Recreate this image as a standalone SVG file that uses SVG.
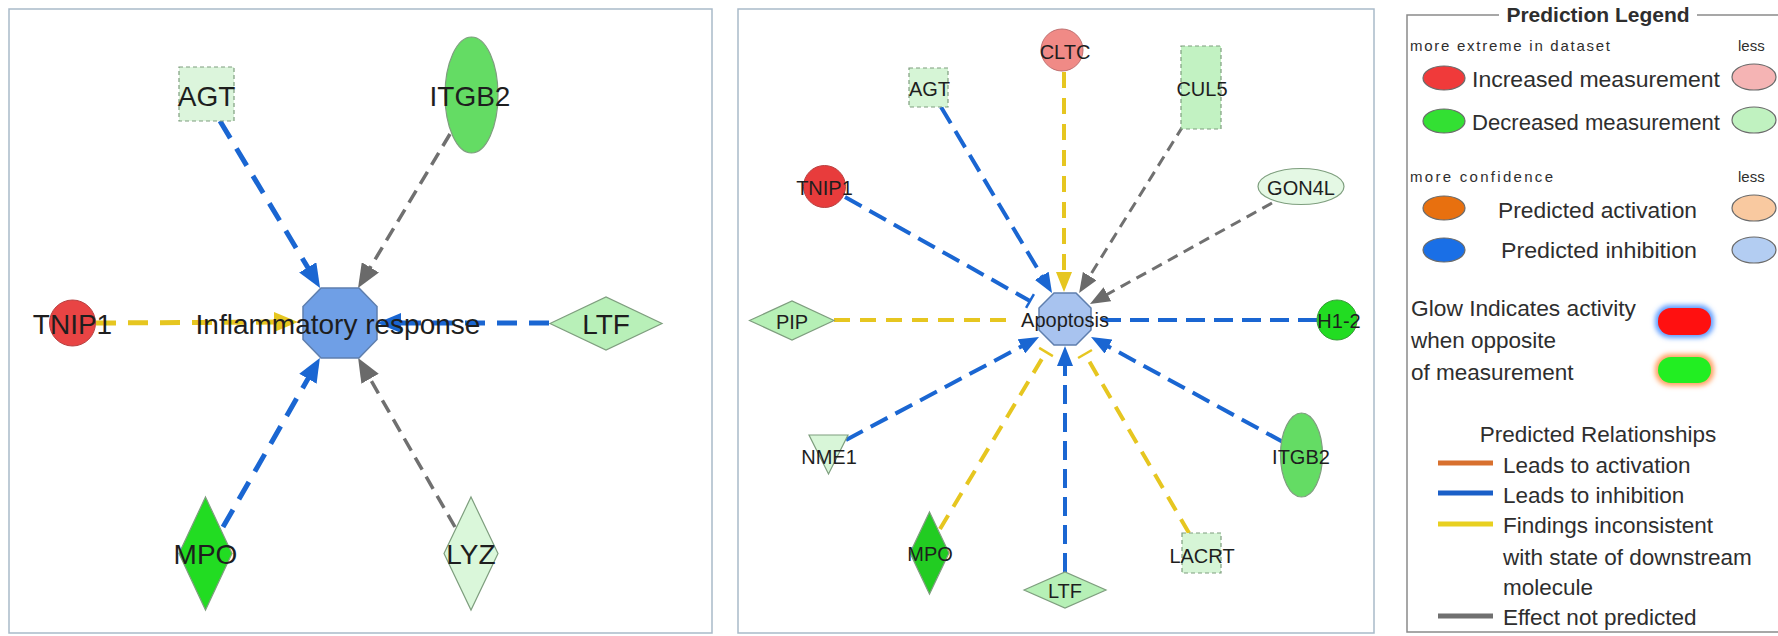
<svg xmlns="http://www.w3.org/2000/svg" width="1778" height="636" viewBox="0 0 1778 636">
<defs>
<style>
.panel{fill:#ffffff;stroke:#a9bac9;stroke-width:1.5}
.lbl1{font-family:"Liberation Sans",Arial,sans-serif;font-size:28px;fill:#1e1e1e;text-anchor:middle}
.lbl2{font-family:"Liberation Sans",Arial,sans-serif;font-size:20px;fill:#1e1e1e;text-anchor:middle}
.node{stroke:#7e9e7e;stroke-width:1.2}
.dnode{stroke:#7e9e7e;stroke-width:1.2;stroke-dasharray:4 3}
.oct{stroke:#5f7fae;stroke-width:1.5}
.b1{stroke:#1a66d2;stroke-width:5;stroke-dasharray:20 12;fill:none}
.y1{stroke:#e6c620;stroke-width:5;stroke-dasharray:20 12;fill:none}
.g1{stroke:#707070;stroke-width:3.5;stroke-dasharray:14 8;fill:none}
.b2{stroke:#1a66d2;stroke-width:4;stroke-dasharray:19 9;fill:none}
.y2{stroke:#e6c620;stroke-width:4;stroke-dasharray:16 10;fill:none}
.g2{stroke:#707070;stroke-width:3;stroke-dasharray:11 7;fill:none}
.lg{font-family:"Liberation Sans",Arial,sans-serif;font-size:22.5px;fill:#2e2e2e}
.lgs{font-family:"Liberation Sans",Arial,sans-serif;font-size:15px;fill:#2e2e2e}
.lgt{font-family:"Liberation Sans",Arial,sans-serif;font-size:21px;font-weight:bold;fill:#2e2e2e;text-anchor:middle}
.le{stroke:#6a6a6a;stroke-width:1.2}
</style>
<marker id="ab1" viewBox="0 -10 24 20" refX="12" refY="0" markerWidth="24" markerHeight="20" markerUnits="userSpaceOnUse" orient="auto"><path d="M0,-10 L24,0 L0,10 z" fill="#1a66d2"/></marker>
<marker id="ay1" viewBox="0 -10 24 20" refX="12" refY="0" markerWidth="24" markerHeight="20" markerUnits="userSpaceOnUse" orient="auto"><path d="M0,-10 L24,0 L0,10 z" fill="#e6c620"/></marker>
<marker id="ag1" viewBox="0 -10 24 20" refX="12" refY="0" markerWidth="24" markerHeight="20" markerUnits="userSpaceOnUse" orient="auto"><path d="M0,-10 L24,0 L0,10 z" fill="#6a6a6a"/></marker>
<marker id="ab2" viewBox="0 -8 20 16" refX="10" refY="0" markerWidth="20" markerHeight="16" markerUnits="userSpaceOnUse" orient="auto"><path d="M0,-8 L20,0 L0,8 z" fill="#1a66d2"/></marker>
<marker id="ay2" viewBox="0 -8 20 16" refX="10" refY="0" markerWidth="20" markerHeight="16" markerUnits="userSpaceOnUse" orient="auto"><path d="M0,-8 L20,0 L0,8 z" fill="#e6c620"/></marker>
<marker id="ag2" viewBox="0 -8 20 16" refX="10" refY="0" markerWidth="20" markerHeight="16" markerUnits="userSpaceOnUse" orient="auto"><path d="M0,-8 L20,0 L0,8 z" fill="#6a6a6a"/></marker>
<marker id="tb2" viewBox="-2 -9 4 18" refX="0" refY="0" markerWidth="4" markerHeight="18" markerUnits="userSpaceOnUse" orient="auto"><path d="M0,-8 V8" stroke="#1a66d2" stroke-width="2.5"/></marker>
<marker id="ty2" viewBox="-2 -9 4 18" refX="0" refY="0" markerWidth="4" markerHeight="18" markerUnits="userSpaceOnUse" orient="auto"><path d="M0,-8 V8" stroke="#e6c620" stroke-width="2.5"/></marker>
<filter id="blur" x="-30%" y="-50%" width="160%" height="200%"><feGaussianBlur stdDeviation="2.5"/></filter>
</defs>
<rect width="1778" height="636" fill="#ffffff"/>

<!-- Panel 1 -->
<rect class="panel" x="9" y="9" width="703" height="624"/>
<g id="p1-connectors">
<line class="b1" x1="220" y1="121" x2="313.9" y2="277.7" marker-end="url(#ab1)"/>
<line class="g1" x1="450" y1="134" x2="364.2" y2="277.7" marker-end="url(#ag1)"/>
<line class="y1" x1="96" y1="323" x2="286" y2="322" marker-end="url(#ay1)"/>
<line class="b1" x1="549" y1="323" x2="389" y2="323" marker-end="url(#ab1)"/>
<line class="b1" x1="223" y1="527" x2="313.9" y2="368.4" marker-end="url(#ab1)"/>
<line class="g1" x1="455" y1="527" x2="364.1" y2="368.4" marker-end="url(#ag1)"/>
</g>
<g id="p1-AGT"><rect class="dnode" x="179" y="67" width="55" height="54" fill="#dcf5dc"/><text class="lbl1" x="206.5" y="106">AGT</text></g>
<g id="p1-ITGB2"><ellipse class="node" cx="471.5" cy="95" rx="26.5" ry="58" fill="#64dc64"/><text class="lbl1" x="470" y="106">ITGB2</text></g>
<g id="p1-TNIP1"><circle cx="72.5" cy="323" r="23" fill="#e84444" stroke="#b84040" stroke-width="1"/><text class="lbl1" x="72.5" y="334">TNIP1</text></g>
<g id="p1-LTF"><polygon class="node" points="550,323.5 606,297 662,323.5 606,350" fill="#b8f0b8"/><text class="lbl1" x="606" y="334">LTF</text></g>
<g id="p1-MPO"><polygon class="node" points="205.5,497 232,553.5 205.5,610 179,553.5" fill="#22dc22"/><text class="lbl1" x="205.5" y="564">MPO</text></g>
<g id="p1-LYZ"><polygon class="node" points="471,497 498,553.5 471,610 444,553.5" fill="#daf7da"/><text class="lbl1" x="471" y="564">LYZ</text></g>
<g id="p1-inflammatory"><polygon class="oct" points="321,288 359,288 377,306.5 377,339.5 359,358 321,358 303,339.5 303,306.5" fill="#6f9fe6"/><text class="lbl1" x="338" y="334">Inflammatory response</text></g>

<!-- Panel 2 -->
<rect class="panel" x="738" y="9" width="636" height="624"/>
<g id="p2-connectors">
<line class="b2" x1="941" y1="107" x2="1046.9" y2="284.4" marker-end="url(#ab2)"/>
<line class="y2" x1="1064" y1="72" x2="1064" y2="282" marker-end="url(#ay2)"/>
<line class="g2" x1="1183" y1="126" x2="1084.4" y2="284.6" marker-end="url(#ag2)"/>
<line class="g2" x1="1272" y1="203" x2="1098.7" y2="299.1" marker-end="url(#ag2)"/>
<line class="b2" x1="845" y1="197" x2="1030" y2="301" marker-end="url(#tb2)"/>
<line class="y2" x1="834" y1="320" x2="1014" y2="320"/>
<line class="b2" x1="1317" y1="320" x2="1100" y2="320"/>
<line class="b2" x1="846" y1="440" x2="1030.2" y2="341.7" marker-end="url(#ab2)"/>
<line class="y2" x1="940" y1="529" x2="1046" y2="352" marker-end="url(#ty2)"/>
<line class="b2" x1="1065" y1="572" x2="1065" y2="356" marker-end="url(#ab2)"/>
<line class="y2" x1="1189" y1="533" x2="1085" y2="354" marker-end="url(#ty2)"/>
<line class="b2" x1="1283" y1="442" x2="1099.8" y2="341.8" marker-end="url(#ab2)"/>
</g>
<g id="p2-CLTC"><circle cx="1062" cy="50" r="21" fill="#f08a86" stroke="#c07070" stroke-width="1"/><text class="lbl2" x="1065" y="58.5">CLTC</text></g>
<g id="p2-AGT"><rect class="dnode" x="909" y="68" width="39" height="39" fill="#d6f5d6"/><text class="lbl2" x="929.5" y="96">AGT</text></g>
<g id="p2-CUL5"><rect class="dnode" x="1181" y="46" width="40" height="83" fill="#c2f2c2"/><text class="lbl2" x="1202" y="96">CUL5</text></g>
<g id="p2-TNIP1"><circle cx="824.5" cy="186.5" r="21" fill="#e83c3c" stroke="#b84040" stroke-width="1"/><text class="lbl2" x="824.5" y="194.5">TNIP1</text></g>
<g id="p2-GON4L"><ellipse class="node" cx="1301" cy="186.5" rx="43" ry="18" fill="#e4f8e4"/><text class="lbl2" x="1301" y="194.5">GON4L</text></g>
<g id="p2-PIP"><polygon class="node" points="749.5,320.5 792,301 834,320.5 792,340" fill="#b6f0b6"/><text class="lbl2" x="792" y="328.5">PIP</text></g>
<g id="p2-H1-2"><circle cx="1337" cy="320" r="20" fill="#22dc22" stroke="#3a9a3a" stroke-width="1"/><text class="lbl2" x="1339" y="328">H1-2</text></g>
<g id="p2-NME1"><polygon class="node" points="809,435 848,435 828.5,474" fill="#d8f6d8"/><text class="lbl2" x="829" y="464">NME1</text></g>
<g id="p2-ITGB2"><ellipse class="node" cx="1301.5" cy="455" rx="21" ry="42" fill="#64dc64"/><text class="lbl2" x="1301" y="464">ITGB2</text></g>
<g id="p2-MPO"><polygon class="node" points="929.5,512 949,553 929.5,594 910,553" fill="#22cc22"/><text class="lbl2" x="930" y="561">MPO</text></g>
<g id="p2-LTF"><polygon class="node" points="1024,590 1065,572 1106,590 1065,608" fill="#b6f0b6"/><text class="lbl2" x="1065" y="598">LTF</text></g>
<g id="p2-LACRT"><rect class="dnode" x="1182" y="533" width="39" height="40" fill="#d6f5d6"/><text class="lbl2" x="1202" y="563">LACRT</text></g>
<g id="p2-apoptosis"><polygon class="oct" points="1054,293 1076,293 1091,308 1091,330 1076,345 1054,345 1039,330 1039,308" fill="#a8c3ef"/><text class="lbl2" x="1065" y="327">Apoptosis</text></g>

<!-- Legend -->
<g id="legend">
<rect x="1407" y="15" width="400" height="617" fill="none" stroke="#8a8a8a" stroke-width="1.5"/>
<rect x="1499" y="3" width="198" height="26" fill="#ffffff"/>
<text class="lgt" x="1598" y="22">Prediction Legend</text>
<text class="lgs" x="1410" y="51" textLength="200" lengthAdjust="spacing">more extreme in dataset</text>
<text class="lgs" x="1738" y="51">less</text>
<ellipse class="le" cx="1444" cy="78" rx="21" ry="12" fill="#f03a3a"/>
<text class="lg" x="1472" y="87" textLength="248" lengthAdjust="spacingAndGlyphs">Increased measurement</text>
<ellipse class="le" cx="1754" cy="77" rx="22" ry="13" fill="#f5b4b4"/>
<ellipse class="le" cx="1444" cy="121" rx="21" ry="12" fill="#33e033"/>
<text class="lg" x="1472" y="130" textLength="248" lengthAdjust="spacingAndGlyphs">Decreased measurement</text>
<ellipse class="le" cx="1754" cy="120" rx="22" ry="13" fill="#c0f2c0"/>
<text class="lgs" x="1410" y="182" textLength="143" lengthAdjust="spacing">more confidence</text>
<text class="lgs" x="1738" y="182">less</text>
<ellipse class="le" cx="1444" cy="208" rx="21" ry="12" fill="#e8700f"/>
<text class="lg" x="1498" y="218" textLength="199" lengthAdjust="spacingAndGlyphs">Predicted activation</text>
<ellipse class="le" cx="1754" cy="208" rx="22" ry="13" fill="#f9c9a0"/>
<ellipse class="le" cx="1444" cy="250" rx="21" ry="12" fill="#1a6fe6"/>
<text class="lg" x="1501" y="258" textLength="196" lengthAdjust="spacingAndGlyphs">Predicted inhibition</text>
<ellipse class="le" cx="1754" cy="250" rx="22" ry="13" fill="#b3cdf2"/>
<text class="lg" x="1411" y="316" textLength="225" lengthAdjust="spacingAndGlyphs">Glow Indicates activity</text>
<text class="lg" x="1411" y="348">when opposite</text>
<text class="lg" x="1411" y="380">of measurement</text>
<rect x="1655" y="305" width="59" height="33" rx="15" fill="#5d9cff" filter="url(#blur)"/>
<rect x="1658" y="308" width="53" height="27" rx="13" fill="#ff1010"/>
<rect x="1655" y="354" width="59" height="32" rx="15" fill="#ffa060" filter="url(#blur)"/>
<rect x="1658" y="357" width="53" height="26" rx="13" fill="#22ee22"/>
<text class="lg" x="1598" y="442" text-anchor="middle">Predicted Relationships</text>
<line x1="1438" y1="463" x2="1493" y2="463" stroke="#d8702e" stroke-width="5"/>
<text class="lg" x="1503" y="473">Leads to activation</text>
<line x1="1438" y1="493" x2="1493" y2="493" stroke="#1a5fc8" stroke-width="5"/>
<text class="lg" x="1503" y="503">Leads to inhibition</text>
<line x1="1438" y1="524" x2="1493" y2="524" stroke="#e8d020" stroke-width="5"/>
<text class="lg" x="1503" y="533">Findings inconsistent</text>
<text class="lg" x="1503" y="565">with state of downstream</text>
<text class="lg" x="1503" y="595">molecule</text>
<line x1="1438" y1="616" x2="1493" y2="616" stroke="#707070" stroke-width="5"/>
<text class="lg" x="1503" y="625">Effect not predicted</text>
</g>
</svg>
